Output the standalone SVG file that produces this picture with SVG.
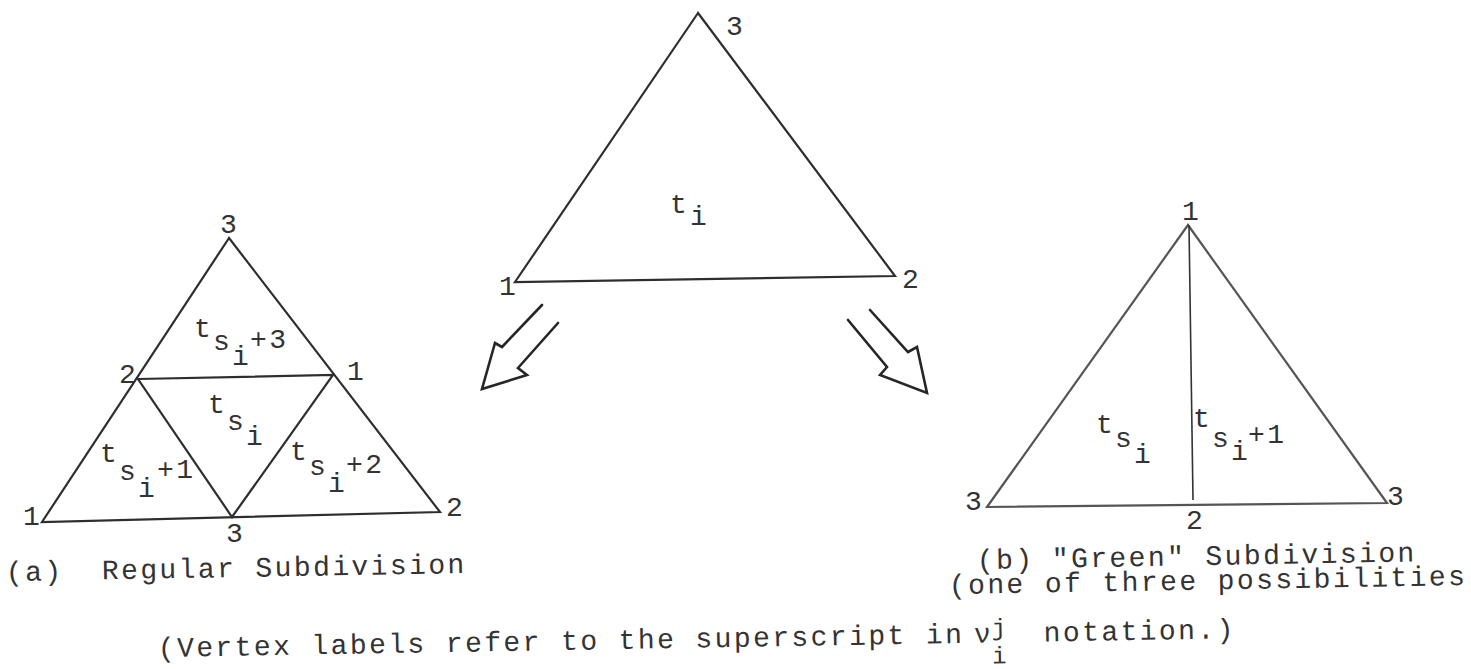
<svg xmlns="http://www.w3.org/2000/svg" width="1471" height="669" viewBox="0 0 1471 669">
<style>
.ln{fill:none;stroke:#2e2e2e;stroke-width:2.2;stroke-linejoin:miter}
.lt{fill:none;stroke:#555;stroke-width:2.2;stroke-linejoin:miter}
.ar{fill:none;stroke:#262626;stroke-width:2.6;stroke-linejoin:miter;stroke-linecap:round}
.tx{font-family:"Liberation Mono","Courier New",monospace;font-size:28px;letter-spacing:2.4px;fill:#333;white-space:pre}
.sm{font-size:24px}
</style>
<rect width="1471" height="669" fill="#ffffff"/>

<g id="node-parent">
  <polygon class="ln" points="698,13 515,282 895,276"/>
  <text class="tx" x="726" y="35">3</text>
  <text class="tx" x="499" y="295">1</text>
  <text class="tx" x="902" y="288">2</text>
  <text class="tx"><tspan x="670" y="213">t</tspan><tspan x="690" y="225">i</tspan></text>
</g>

<g id="node-regular">
  <polygon class="ln" points="229,238 42,522 440,512"/>
  <polygon class="ln" points="138,379 333,375 232,517"/>
  <text class="tx" x="220" y="233">3</text>
  <text class="tx" x="119" y="383">2</text>
  <text class="tx" x="347" y="380">1</text>
  <text class="tx" x="23" y="525">1</text>
  <text class="tx" x="446" y="516">2</text>
  <text class="tx" x="226" y="542">3</text>
  <text class="tx"><tspan x="194" y="337">t</tspan><tspan x="213" y="350">s</tspan><tspan x="232" y="365">i</tspan><tspan x="250" y="348">+3</tspan></text>
  <text class="tx"><tspan x="208" y="413">t</tspan><tspan x="227" y="430">s</tspan><tspan x="246" y="445">i</tspan></text>
  <text class="tx"><tspan x="100" y="462">t</tspan><tspan x="119" y="480">s</tspan><tspan x="138" y="497">i</tspan><tspan x="157" y="478">+1</tspan></text>
  <text class="tx"><tspan x="290" y="460">t</tspan><tspan x="309" y="475">s</tspan><tspan x="328" y="492">i</tspan><tspan x="346" y="473">+2</tspan></text>
  <text class="tx" x="6" y="581" transform="rotate(-1 6 581)">(a)  Regular Subdivision</text>
</g>

<g id="node-green">
  <polygon class="lt" points="1188,225 987,507 1387,503"/>
  <line x1="1189" y1="225" x2="1193" y2="500" stroke="#333" stroke-width="1.6"/>
  <text class="tx" x="1182" y="220">1</text>
  <text class="tx" x="965" y="510">3</text>
  <text class="tx" x="1387" y="505">3</text>
  <text class="tx" x="1186" y="529">2</text>
  <text class="tx"><tspan x="1096" y="433">t</tspan><tspan x="1115" y="447">s</tspan><tspan x="1134" y="463">i</tspan></text>
  <text class="tx"><tspan x="1193" y="427">t</tspan><tspan x="1212" y="447">s</tspan><tspan x="1231" y="460">i</tspan><tspan x="1248" y="443">+1</tspan></text>
  <text class="tx" transform="rotate(-1 977 569)"><tspan x="977" y="569">(b)</tspan><tspan x="1052" y="569">"Green" Subdivision</tspan></text>
  <text class="tx" x="949" y="594" transform="rotate(-1 949 594)">(one of three possibilities</text>
</g>

<g id="connectors">
  <polyline class="ar" points="542,305 502,347 495,343 482,389 527,375 518,368 558,323"/>
  <polyline class="ar" points="848,320 887,367 880,375 927,393 917,347 908,352 870,310"/>
</g>

<g id="note" transform="rotate(-1 158 657)">
  <text class="tx"><tspan x="158" y="657">(Vertex labels refer to the superscript in</tspan><tspan x="974" y="657">ν</tspan><tspan class="sm" x="992" y="650">j</tspan><tspan class="sm" x="992" y="678">i</tspan><tspan x="1044" y="657">notation.)</tspan></text>
</g>
</svg>
